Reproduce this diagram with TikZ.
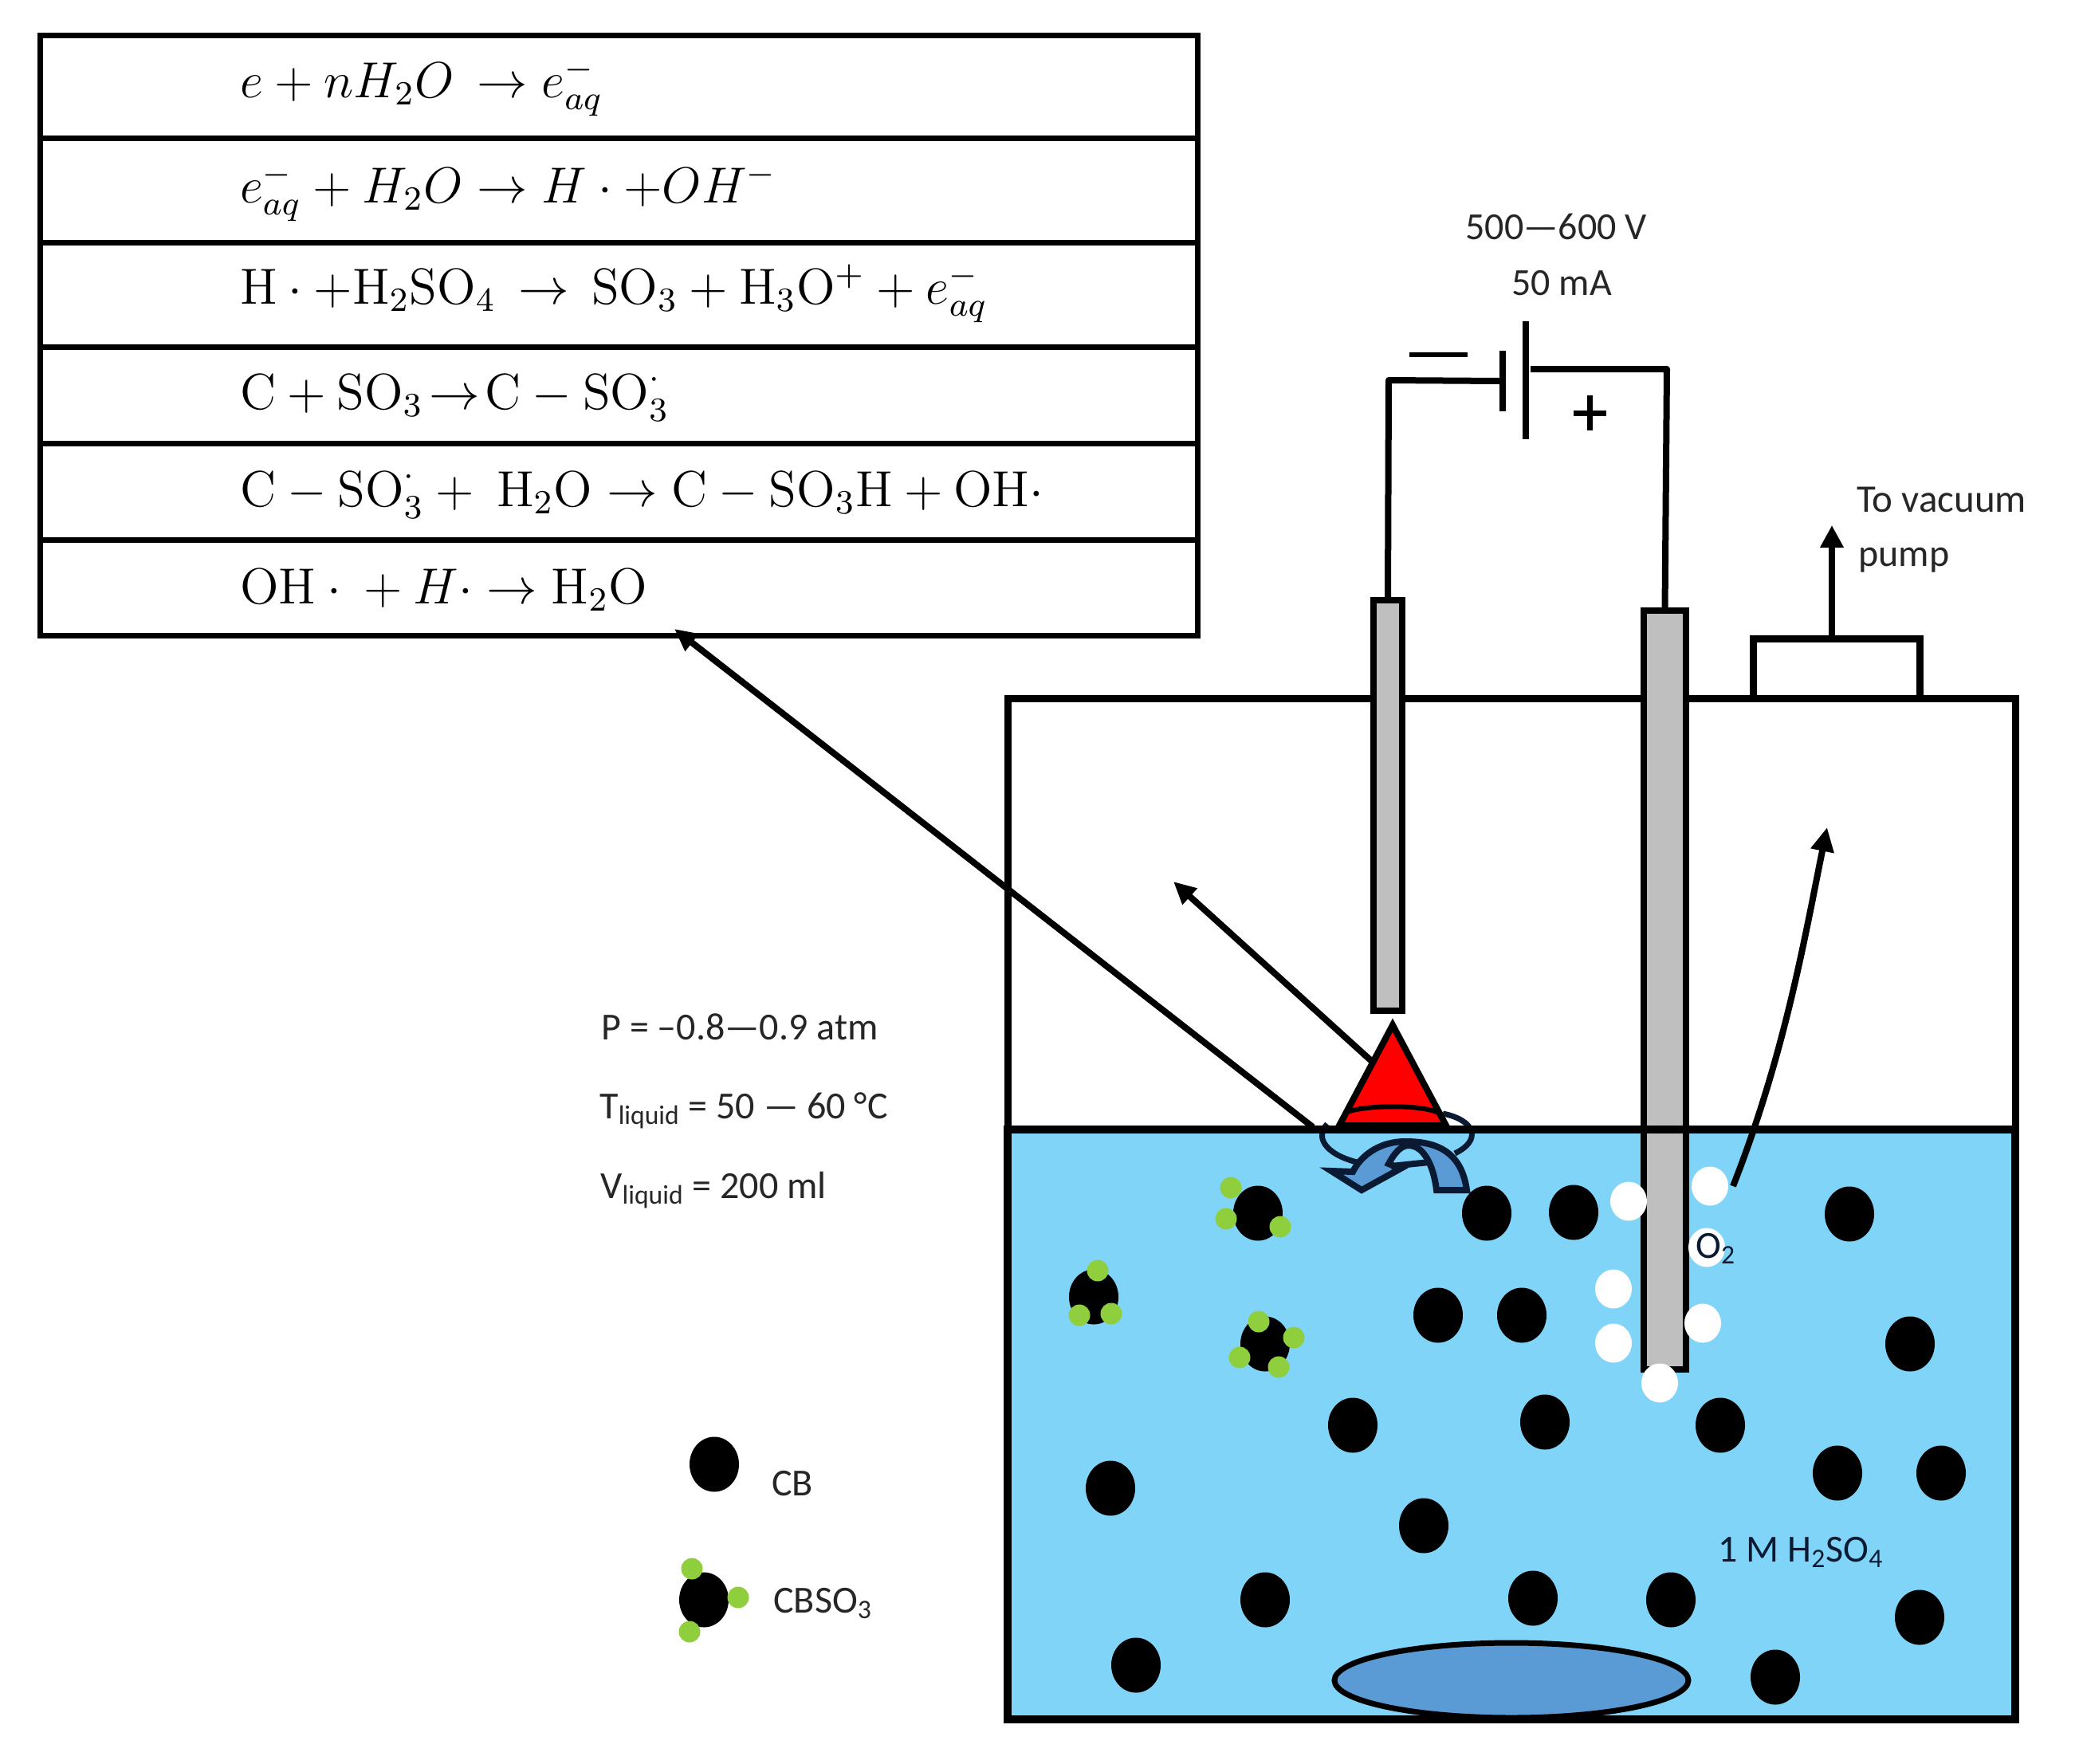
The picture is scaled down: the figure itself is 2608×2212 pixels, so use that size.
\documentclass[tikz,border=0pt]{standalone}
\usepackage[no-math]{fontspec}
\setmainfont{Carlito}
\usetikzlibrary{arrows.meta,shapes.geometric}
\definecolor{liquid}{HTML}{7FD4F8}
\definecolor{stirblue}{HTML}{5B9BD5}
\definecolor{navy}{HTML}{0B1A33}
\definecolor{sulfo}{HTML}{8FCE3C}
\definecolor{rod}{HTML}{BFBFBF}
\tikzset{
  x=0.5pt,y=-0.5pt,
  rowbox/.style={draw=black,line width=3.5pt,fill=white,rectangle,inner sep=0,outer sep=0,minimum width=726pt,anchor=north west},
  eqn/.style={anchor=base west,inner sep=0,scale=2.65,font=\fontsize{12}{14}\selectfont},
  lab/.style={anchor=base west,inner sep=0,font=\fontsize{24}{24}\selectfont,text=black!85},
  cb/.style={ellipse,fill=black,inner sep=0,minimum width=31pt,minimum height=34.5pt},
  so/.style={circle,fill=sulfo,inner sep=0,minimum size=13.5pt},
  bub/.style={ellipse,fill=white,inner sep=0,minimum width=23pt,minimum height=24.5pt},
  wall/.style={draw=black,line width=4.5pt},
  wire/.style={draw=black,line width=4pt,line join=round},
  plate/.style={draw=black,line width=4pt},
  arr/.style={draw=black,line width=4pt,-{Triangle[length=14pt,width=13pt]}}
}
\begin{document}
\begin{tikzpicture}
\useasboundingbox (0,0) rectangle (2608,2212);
% reaction table
\node[rowbox,minimum height=64.5pt] (row1) at (50,44) {};
\node[rowbox,minimum height=65.5pt] (row2) at (50,173) {};
\node[rowbox,minimum height=65.5pt] (row3) at (50,304) {};
\node[rowbox,minimum height=60.5pt] (row4) at (50,435) {};
\node[rowbox,minimum height=60.5pt] (row5) at (50,556) {};
\node[rowbox,minimum height=60pt] (row6) at (50,677) {};
\node[eqn] (eq1) at (300,122) {$e+nH_2O\,\rightarrow e_{aq}^{-}$};
\node[eqn] (eq2) at (300,254) {$e_{aq}^{-}+H_2O\rightarrow H\cdot{+}OH^{-}$};
\node[eqn] (eq3) at (300,381) {$\mathrm{H}\cdot{+}\mathrm{H_2SO_4}\,\rightarrow\,\mathrm{SO_3}+\mathrm{H_3O^{+}}+e_{aq}^{-}$};
\node[eqn] (eq4) at (300,513) {$\mathrm{C}+\mathrm{SO_3}\!\rightarrow\!\mathrm{C}-\mathrm{SO}_3^{\cdot}$};
\node[eqn] (eq5) at (300,635) {$\mathrm{C}-\mathrm{SO}_3^{\cdot}+\ \mathrm{H_2O}\rightarrow\mathrm{C}-\mathrm{SO_3H}+\mathrm{OH}\cdot$};
\node[eqn] (eq6) at (300,757) {$\mathrm{OH}\cdot{}+H\cdot\rightarrow\mathrm{H_2O}$};
% vessel
\draw[wall,fill=white] (2199,876) rectangle (2408,801);
\draw[wall,fill=white] (1264,876) rectangle (2528,1417);
\draw[wall,line width=5pt,fill=liquid] (1264,1417) rectangle (2528,2157);
\draw[draw=black,line width=3.5pt,fill=stirblue] (1896,2108) ellipse (222 and 47);
% electrodes
\node[draw=black,line width=4pt,fill=rod,inner sep=0,outer sep=0,minimum width=18pt,minimum height=257.5pt,anchor=north west] (cathode) at (1723,753) {};
\node[draw=black,line width=4.2pt,fill=rod,inner sep=0,outer sep=0,minimum width=26.5pt,minimum height=476pt,anchor=north west] (anode) at (2062,766) {};
% battery and wires
\coordinate (bA) at (1885,440); \coordinate (bB) at (1885,516);
\coordinate (bC) at (1914,403); \coordinate (bD) at (1914,551);
\draw[plate] (bA) -- (bB);
\draw[plate] (bC) -- (bD);
\coordinate (wl) at (1742,477);
\coordinate (wr) at (2091,463);
\draw[wire] (cathode.north) -- (wl) -- (1881,478);
\draw[wire] (1920,463) -- (wr) -- (anode.north);
\draw[draw=black,line width=3pt] (1768,445) -- (1841,445);
\draw[draw=black,line width=3.5pt] (1974,518) -- (2015,518);
\draw[draw=black,line width=3.5pt] (1994,496) -- (1994,540);
% pump
\coordinate (pumpbase) at (2298,797);
\coordinate (pumptip) at (2298,659);
\draw[draw=black,line width=4pt,-{Triangle[length=14pt,width=14pt]}] (pumpbase) -- (pumptip);
% particles
\foreach \n/\x/\y in {1/1865/1522,2/1974/1521,3/1804/1650,4/1909/1650,5/1697/1788,6/1938/1784,7/2158/1788,8/1393/1867,9/1786/1914,10/1587/2007,11/1923/2005,12/2096/2007,13/2320/1523,14/2396/1686,15/2305/1848,16/2435/1848,17/2408/2029,18/2227/2104,19/1425/2089,20/896/1837}
  \node[cb] (cb\n) at (\x,\y) {};
% functionalised particles
\foreach \n/\x/\y in {1/1578/1522,2/1372/1627,3/1587/1686,4/883/2007}
  \node[cb] (fn\n) at (\x,\y) {};
\foreach \n/\x/\y in {1/1544/1490,2/1538/1529,3/1606/1539,4/1377/1594,5/1354/1650,6/1394/1648,7/1579/1658,8/1623/1678,9/1555/1703,10/1604/1715,11/868/1968,12/926/2004,13/865/2047}
  \node[so] (so\n) at (\x,\y) {};
% bubbles
\foreach \n/\x/\y in {1/2043/1507,2/2145/1488,3/2141/1565,4/2024/1617,5/2136/1660,6/2024/1685,7/2082/1735}
  \node[bub] (bub\n) at (\x,\y) {};
% plasma cone
\coordinate (ap) at (1747,1286);
\coordinate (bl) at (1680,1412);
\coordinate (br) at (1814,1412);
\coordinate (a1s) at (1647,1414);
\coordinate (a1t) at (846,789);
\coordinate (a2s) at (1727,1337);
\coordinate (a2t) at (1472,1106);
\draw[arr] (a1s) -- (a1t);
\draw[arr] (a2s) -- (a2t);
% swirl ring
\draw[draw=navy,line width=3.5pt] (1665,1410) .. controls (1650,1425) and (1660,1447) .. (1702,1458);
\draw[draw=navy,line width=3.5pt] (1810,1397) .. controls (1850,1405) and (1860,1430) .. (1825,1447);
\draw[draw=black,line width=4pt,fill=red,line join=miter] (ap) -- (bl) -- (br) -- cycle;
\draw[draw=black,line width=3pt] (1690,1395) .. controls (1715,1386) and (1780,1386) .. (1802,1395);
\draw[draw=black,line width=5pt] (1264,1417) -- (2528,1417);
% swirl arrow
\draw[draw=navy,line width=4pt,fill=stirblue,line join=miter]
  (1840,1493) .. controls (1833,1443) and (1800,1432) .. (1763,1432)
  .. controls (1730,1432) and (1707,1450) .. (1697,1470)
  -- (1670,1469) -- (1708,1493) -- (1757,1466) -- (1742,1460)
  .. controls (1750,1445) and (1758,1437) .. (1767,1437)
  .. controls (1785,1437) and (1798,1460) .. (1802,1493) -- cycle;
\draw[draw=navy,line width=4pt] (1745,1463) -- (1793,1458);
% rising gas
\coordinate (gs) at (2174,1488);
\coordinate (gt) at (2292,1038);
\draw[draw=black,line width=4pt,-{Triangle[length=15pt,width=14pt]}] (gs) .. controls (2240,1320) and (2265,1170) .. (gt);
% labels
\node[lab] (volt) at (1838,300) {500—600 V};
\node[lab] (amp) at (1896,370) {50 mA};
\node[lab,font=\fontsize{24.5}{24.5}\selectfont] (vac1) at (2329,642) {To vacuum};
\node[lab] (vac2) at (2331,710) {pump};
\node[lab] (pl) at (754,1304) {P = –0.8—0.9 atm};
\node[lab] (tl) at (752,1403) {T\textsubscript{liquid} = 50 — 60 °C};
\node[lab] (vl) at (753,1503) {V\textsubscript{liquid} = 200 ml};
\node[lab] (cbl) at (968,1876) {CB};
\node[lab] (cbso) at (970,2023) {CBSO\textsubscript{3}};
\node[lab,text=navy] (acid) at (2155,1959) {1 M H\textsubscript{2}SO\textsubscript{4}};
\node[lab,text=navy] (otwo) at (2127,1578) {O\textsubscript{2}};
\end{tikzpicture}
\end{document}
